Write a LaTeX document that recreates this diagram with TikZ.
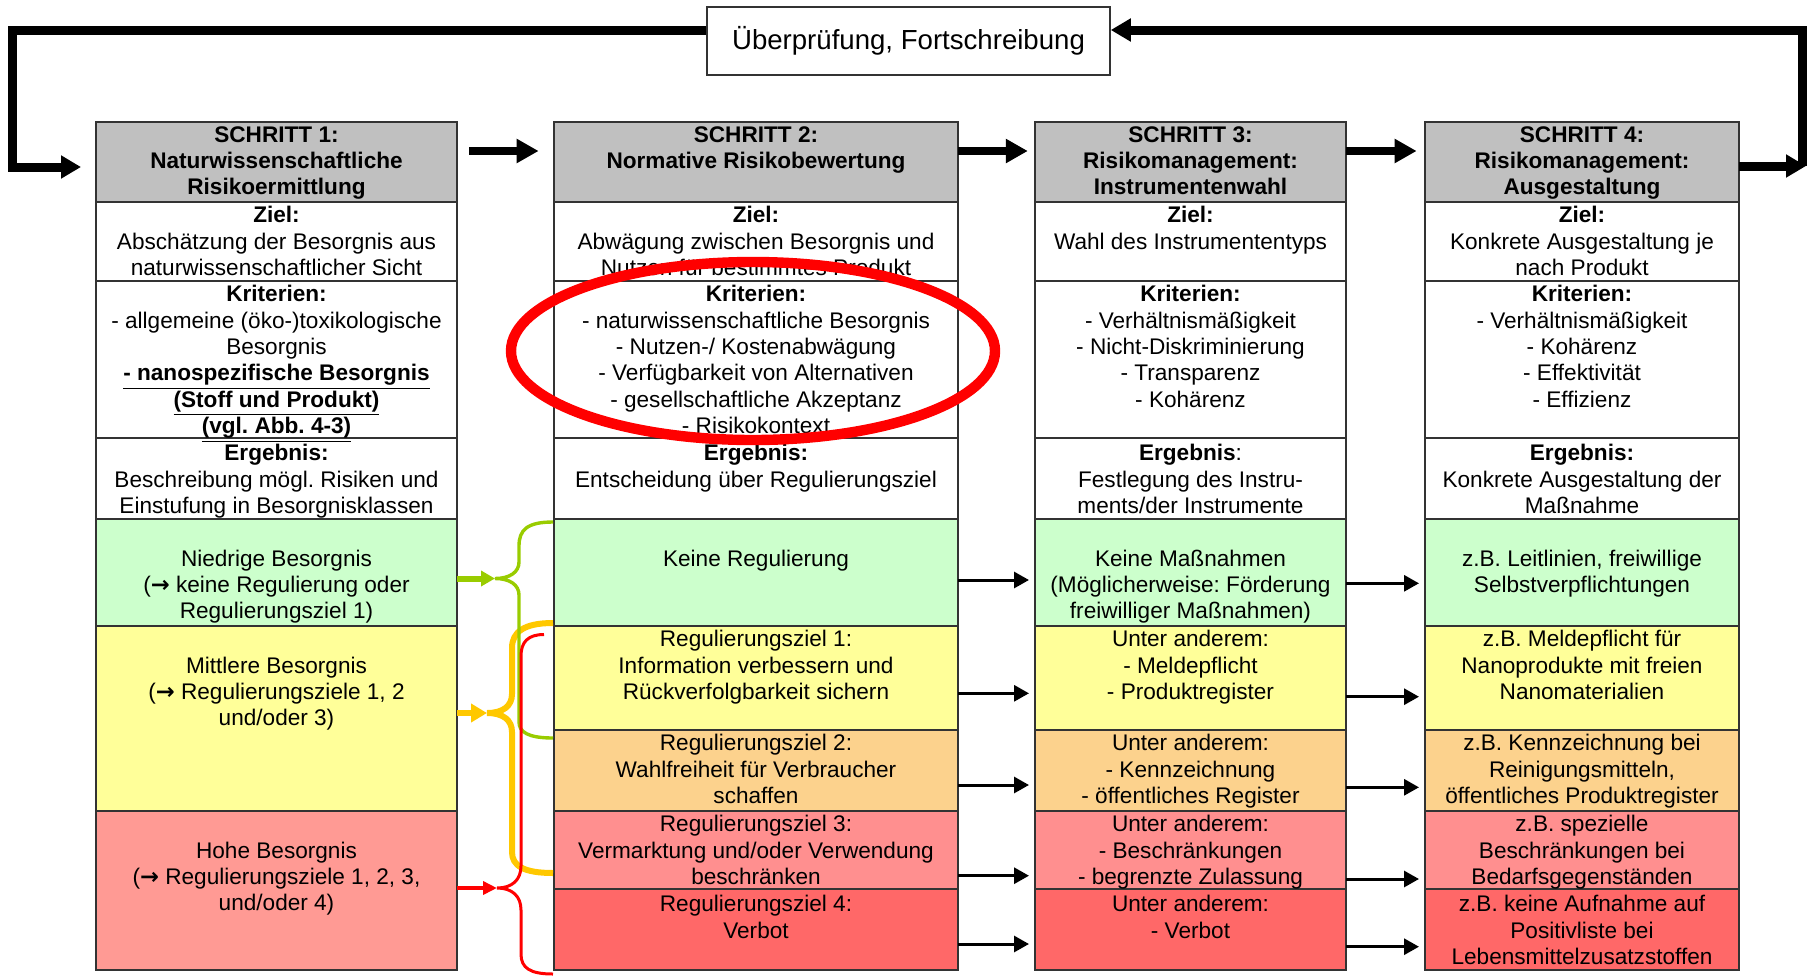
\documentclass[tikz,border=0pt]{standalone}
\usepackage{fontspec}
\setmainfont{Liberation Sans}
\newfontfamily\arrowfont{DejaVu Sans}
\usetikzlibrary{arrows.meta,positioning}
\frenchspacing

\definecolor{hdgray}{HTML}{C0C0C0}
\definecolor{lowgreen}{HTML}{CCFFCC}
\definecolor{midyellow}{HTML}{FFFF99}
\definecolor{midorange}{HTML}{FCD28D}
\definecolor{highred}{HTML}{FF8F8F}
\definecolor{firstred}{HTML}{FF9A94}
\definecolor{banred}{HTML}{FF6868}
\definecolor{bracegreen}{HTML}{99CC00}
\definecolor{braceyellow}{HTML}{FFC800}

\newcommand{\ra}{{\arrowfont\bfseries →}}

\begin{document}
\begin{tikzpicture}[x=0.5pt, y=-0.5pt,
  cell/.style={draw=black!80, line width=0.7pt, fill=white, rectangle, inner sep=0pt, outer sep=0pt},
  head/.style={cell, fill=hdgray, minimum height=40pt},
  col1/.style={minimum width=180.5pt},
  col2/.style={minimum width=202pt},
  col3/.style={minimum width=155.5pt},
  col4/.style={minimum width=157pt},
  txt/.style={inner sep=0pt, align=center, font=\fontsize{11.3}{13.2}\selectfont},
  htxt/.style={txt, font=\fontsize{11.3}{13.2}\selectfont\bfseries},
  revbox/.style={draw=black!80, line width=0.8pt, fill=white, minimum width=201.5pt, minimum height=34pt, font=\fontsize{13.8}{16}\selectfont},
  steparr/.style={line width=4pt, -{Triangle[length=11pt, width=11.5pt]}},
  rowarr/.style={line width=1.5pt, -{Triangle[length=7.5pt, width=8pt]}, shorten >=3pt},
  backarr/.style={line width=4.5pt, -{Triangle[length=10pt, width=11pt]}},
  gbrace/.style={bracegreen, line width=1.7pt},
  ybrace/.style={braceyellow, line width=3pt},
  rbrace/.style={red, line width=1.5pt},
  garr/.style={bracegreen, line width=3pt, -{Triangle[length=7pt, width=7.5pt]}},
  yarr/.style={braceyellow, line width=3pt, -{Triangle[length=8pt, width=9pt]}},
  rarr/.style={red, line width=2pt, -{Triangle[length=7pt, width=6.5pt]}}]
\useasboundingbox (0,0) rectangle (1810,975);

% Schritt 1
\node[head, col1, anchor=north west] (s1h) at (96,122) {};
\node[cell, col1, minimum height=39.5pt, below=0pt of s1h] (s1z) {};
\node[cell, col1, minimum height=78.5pt, below=0pt of s1z] (s1k) {};
\node[cell, col1, minimum height=40.5pt, below=0pt of s1k] (s1e) {};
\node[cell, col1, fill=lowgreen, minimum height=53.5pt, below=0pt of s1e] (s1g) {};
\node[cell, col1, fill=midyellow, minimum height=92.5pt, below=0pt of s1g] (s1y) {};
\node[cell, col1, fill=firstred, minimum height=79.5pt, below=0pt of s1y] (s1r) {};

% Schritt 2
\node[head, col2, right=48.5pt of s1h] (s2h) {};
\node[cell, col2, minimum height=39.5pt, below=0pt of s2h] (s2z) {};
\node[cell, col2, minimum height=78.5pt, below=0pt of s2z] (s2k) {};
\node[cell, col2, minimum height=40.5pt, below=0pt of s2k] (s2e) {};
\node[cell, col2, fill=lowgreen, minimum height=53.5pt, below=0pt of s2e] (s2g) {};
\node[cell, col2, fill=midyellow, minimum height=52pt, below=0pt of s2g] (s2y) {};
\node[cell, col2, fill=midorange, minimum height=40.5pt, below=0pt of s2y] (s2o) {};
\node[cell, col2, fill=highred, minimum height=39pt, below=0pt of s2o] (s2r) {};
\node[cell, col2, fill=banred, minimum height=40.5pt, below=0pt of s2r] (s2v) {};

% Schritt 3
\node[head, col3, right=38.5pt of s2h] (s3h) {};
\node[cell, col3, minimum height=39.5pt, below=0pt of s3h] (s3z) {};
\node[cell, col3, minimum height=78.5pt, below=0pt of s3z] (s3k) {};
\node[cell, col3, minimum height=40.5pt, below=0pt of s3k] (s3e) {};
\node[cell, col3, fill=lowgreen, minimum height=53.5pt, below=0pt of s3e] (s3g) {};
\node[cell, col3, fill=midyellow, minimum height=52pt, below=0pt of s3g] (s3y) {};
\node[cell, col3, fill=midorange, minimum height=40.5pt, below=0pt of s3y] (s3o) {};
\node[cell, col3, fill=highred, minimum height=39pt, below=0pt of s3o] (s3r) {};
\node[cell, col3, fill=banred, minimum height=40.5pt, below=0pt of s3r] (s3v) {};

% Schritt 4
\node[head, col4, right=39.5pt of s3h] (s4h) {};
\node[cell, col4, minimum height=39.5pt, below=0pt of s4h] (s4z) {};
\node[cell, col4, minimum height=78.5pt, below=0pt of s4z] (s4k) {};
\node[cell, col4, minimum height=40.5pt, below=0pt of s4k] (s4e) {};
\node[cell, col4, fill=lowgreen, minimum height=53.5pt, below=0pt of s4e] (s4g) {};
\node[cell, col4, fill=midyellow, minimum height=52pt, below=0pt of s4g] (s4y) {};
\node[cell, col4, fill=midorange, minimum height=40.5pt, below=0pt of s4y] (s4o) {};
\node[cell, col4, fill=highred, minimum height=39pt, below=0pt of s4o] (s4r) {};
\node[cell, col4, fill=banred, minimum height=40.5pt, below=0pt of s4r] (s4v) {};

% Texte Schritt 1
\node[htxt, below=2pt of s1h.north] (t1h) {SCHRITT 1:\\Naturwissenschaftliche\\Risikoermittlung};
\node[txt, below=2pt of s1z.north] (t1z) {\textbf{Ziel:}\\Abschätzung der Besorgnis aus\\naturwissenschaftlicher Sicht};
\node[txt, below=2pt of s1k.north] (t1k) {\textbf{Kriterien:}\\- allgemeine (öko-)toxikologische\\Besorgnis\\\underline{\textbf{- nanospezifische Besorgnis}}\\\underline{\textbf{(Stoff und Produkt)}}\\\underline{\textbf{(vgl. Abb. 4-3)}}};
\node[txt, below=3pt of s1e.north] (t1e) {\textbf{Ergebnis:}\\Beschreibung mögl. Risiken und\\Einstufung in Besorgnisklassen};
\node[txt, below=15.2pt of s1g.north] (t1g) {Niedrige Besorgnis\\(\ra{} keine Regulierung oder\\Regulierungsziel 1)};
\node[txt, below=15.2pt of s1y.north] (t1y) {Mittlere Besorgnis\\(\ra{} Regulierungsziele 1, 2\\und/oder 3)};
\node[txt, below=15.2pt of s1r.north] (t1r) {Hohe Besorgnis\\(\ra{} Regulierungsziele 1, 2, 3,\\und/oder 4)};

% Texte Schritt 2
\node[htxt, below=2pt of s2h.north] (t2h) {SCHRITT 2:\\Normative Risikobewertung};
\node[txt, below=2pt of s2z.north] (t2z) {\textbf{Ziel:}\\Abwägung zwischen Besorgnis und\\Nutzen für bestimmtes Produkt};
\node[txt, below=2pt of s2k.north] (t2k) {\textbf{Kriterien:}\\- naturwissenschaftliche Besorgnis\\- Nutzen-/ Kostenabwägung\\- Verfügbarkeit von Alternativen\\- gesellschaftliche Akzeptanz\\- Risikokontext};
\node[txt, below=3pt of s2e.north] (t2e) {\textbf{Ergebnis:}\\Entscheidung über Regulierungsziel};
\node[txt, below=15.2pt of s2g.north] (t2g) {Keine Regulierung};
\node[txt, below=2pt of s2y.north] (t2y) {Regulierungsziel 1:\\Information verbessern und\\Rückverfolgbarkeit sichern};
\node[txt, below=2pt of s2o.north] (t2o) {Regulierungsziel 2:\\Wahlfreiheit für Verbraucher\\schaffen};
\node[txt, below=2pt of s2r.north] (t2r) {Regulierungsziel 3:\\Vermarktung und/oder Verwendung\\beschränken};
\node[txt, below=3pt of s2v.north] (t2v) {Regulierungsziel 4:\\Verbot};

% Texte Schritt 3
\node[htxt, below=2pt of s3h.north] (t3h) {SCHRITT 3:\\Risikomanagement:\\Instrumentenwahl};
\node[txt, below=2pt of s3z.north] (t3z) {\textbf{Ziel:}\\Wahl des Instrumententyps};
\node[txt, below=2pt of s3k.north] (t3k) {\textbf{Kriterien:}\\- Verhältnismäßigkeit\\- Nicht-Diskriminierung\\- Transparenz\\- Kohärenz};
\node[txt, below=3pt of s3e.north] (t3e) {\textbf{Ergebnis}:\\Festlegung des Instru-\\ments/der Instrumente};
\node[txt, below=15.2pt of s3g.north] (t3g) {Keine Maßnahmen\\(Möglicherweise: Förderung\\freiwilliger Maßnahmen)};
\node[txt, below=2pt of s3y.north] (t3y) {Unter anderem:\\- Meldepflicht\\- Produktregister};
\node[txt, below=2pt of s3o.north] (t3o) {Unter anderem:\\- Kennzeichnung\\- öffentliches Register};
\node[txt, below=2pt of s3r.north] (t3r) {Unter anderem:\\- Beschränkungen\\- begrenzte Zulassung};
\node[txt, below=3pt of s3v.north] (t3v) {Unter anderem:\\- Verbot};

% Texte Schritt 4
\node[htxt, below=2pt of s4h.north] (t4h) {SCHRITT 4:\\Risikomanagement:\\Ausgestaltung};
\node[txt, below=2pt of s4z.north] (t4z) {\textbf{Ziel:}\\Konkrete Ausgestaltung je\\nach Produkt};
\node[txt, below=2pt of s4k.north] (t4k) {\textbf{Kriterien:}\\- Verhältnismäßigkeit\\- Kohärenz\\- Effektivität\\- Effizienz};
\node[txt, below=3pt of s4e.north] (t4e) {\textbf{Ergebnis:}\\Konkrete Ausgestaltung der\\Maßnahme};
\node[txt, below=15.2pt of s4g.north] (t4g) {z.B. Leitlinien, freiwillige\\Selbstverpflichtungen};
\node[txt, below=2pt of s4y.north] (t4y) {z.B. Meldepflicht für\\Nanoprodukte mit freien\\Nanomaterialien};
\node[txt, below=2pt of s4o.north] (t4o) {z.B. Kennzeichnung bei\\Reinigungsmitteln,\\öffentliches Produktregister};
\node[txt, below=2pt of s4r.north] (t4r) {z.B. spezielle\\Beschränkungen bei\\Bedarfsgegenständen};
\node[txt, below=3pt of s4v.north] (t4v) {z.B. keine Aufnahme auf\\Positivliste bei\\Lebensmittelzusatzstoffen};

% Rueckkopplung
\node[revbox] (rev) at (908.5,41) {Überprüfung, Fortschreibung};
\coordinate (ltop) at (12,30);
\coordinate (lbot) at (12,167);
\coordinate (rtop) at (1802,30);
\coordinate (rbot) at (1802,166);
\draw[backarr, shorten >=7.5pt] (rev.west |- ltop) -- (ltop) -- (lbot) -- (s1h.west |- lbot);
\draw[backarr] ([yshift=-2pt]s4h.east) -- ([xshift=2pt]rbot);
\draw[backarr] (rbot) -- (rtop) -- (rev.east |- rtop);

% Schritte
\draw[steparr, shorten <=6pt, shorten >=7.7pt] ([yshift=5.5pt]s1h.east) -- ([yshift=5.5pt]s2h.west);
\draw[steparr, shorten >=3.6pt] ([yshift=5.5pt]s2h.east) -- ([yshift=5.5pt]s3h.west);
\draw[steparr, shorten >=4.2pt] ([yshift=5.5pt]s3h.east) -- ([yshift=5.5pt]s4h.west);

% Zeilenpfeile
\draw[rowarr] ([yshift=-3.75pt]s2g.east) -- ([yshift=-3.75pt]s3g.west);
\draw[rowarr] ([yshift=-7.65pt]s2y.east) -- ([yshift=-7.65pt]s3y.west);
\draw[rowarr] ([yshift=-7.25pt]s2o.east) -- ([yshift=-7.25pt]s3o.west);
\draw[rowarr] ([yshift=-12.85pt]s2r.east) -- ([yshift=-12.85pt]s3r.west);
\draw[rowarr] ([yshift=-7.25pt]s2v.east) -- ([yshift=-7.25pt]s3v.west);
\draw[rowarr] ([yshift=-5.4pt]s3g.east) -- ([yshift=-5.4pt]s4g.west);
\draw[rowarr] ([yshift=-9.35pt]s3y.east) -- ([yshift=-9.35pt]s4y.west);
\draw[rowarr] ([yshift=-8.4pt]s3o.east) -- ([yshift=-8.4pt]s4o.west);
\draw[rowarr] ([yshift=-14.5pt]s3r.east) -- ([yshift=-14.5pt]s4r.west);
\draw[rowarr] ([yshift=-8.6pt]s3v.east) -- ([yshift=-8.6pt]s4v.west);

% Klammern
\coordinate (gtip) at (495,578.5);
\coordinate (ytip) at (487,713);
\coordinate (rtip) at (497,888);
\draw[ybrace] (553,623) .. controls (524,623) and (512,632) .. (512,648) -- (512,694)
  .. controls (512,706) and (503,713) .. (ytip) .. controls (503,713) and (512,720) .. (512,732)
  -- (512,852) .. controls (512,866) and (524,873) .. (553,873);
\draw[gbrace] (553,522) .. controls (527,522) and (519,530) .. (519,546) -- (519,562)
  .. controls (519,572) and (510,578.5) .. (gtip) .. controls (510,578.5) and (519,585) .. (519,595)
  -- (519,722) .. controls (519,732) and (528,738) .. (553,738);
\draw[rbrace] (544,634.5) .. controls (528,634.5) and (521,642) .. (521,656) -- (521,866)
  .. controls (521,880) and (512,888) .. (rtip) .. controls (512,888) and (521,896) .. (521,910)
  -- (521,954) .. controls (521,968) and (530,974) .. (553,974);
\draw[garr] (s1g.east |- gtip) -- (gtip);
\draw[yarr] (s1y.east |- ytip) -- (ytip);
\draw[rarr] (s1r.east |- rtip) -- (rtip);

% Markierung
\draw[red, line width=5.2pt] (753,351) ellipse [x radius=121pt, y radius=44.5pt];
\end{tikzpicture}
\end{document}
